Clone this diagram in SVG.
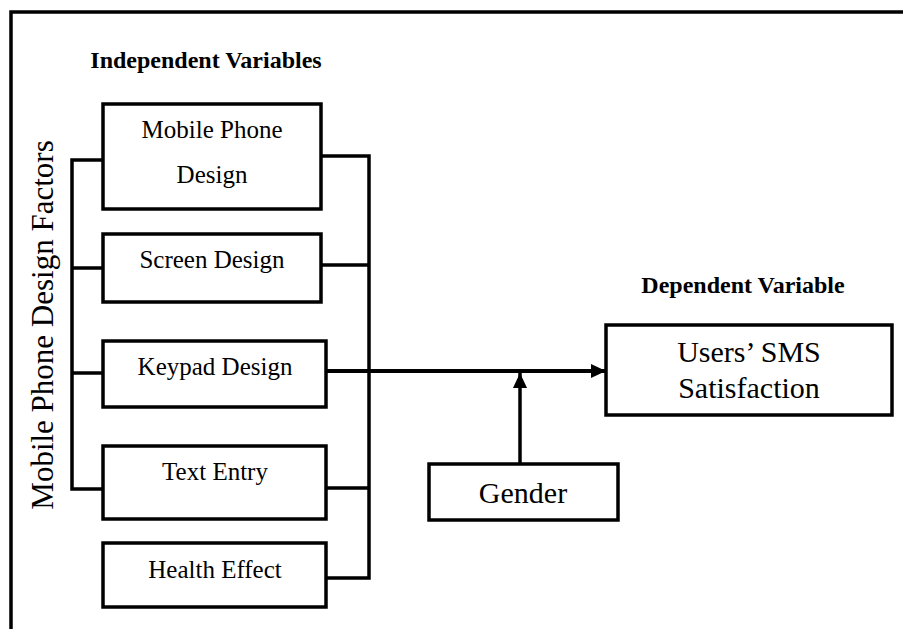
<svg xmlns="http://www.w3.org/2000/svg" width="903" height="629" viewBox="0 0 903 629">
<style>
.box{fill:#fff;stroke:#000;stroke-width:3.5}
.ln{fill:none;stroke:#000;stroke-width:3.5}
.t{font-family:"Liberation Serif","Times New Roman",serif;fill:#000;text-anchor:middle}
.b{font-weight:bold;font-size:24px}
.s{font-size:25px}
.l{font-size:30px}
.r{font-size:31px}
</style>
<defs>
<marker id="ah" markerWidth="16" markerHeight="16" refX="15" refY="7" orient="auto" markerUnits="userSpaceOnUse">
<path d="M0,0 L15,7 L0,14 Z" fill="#000"/>
</marker>
</defs>
<rect width="903" height="629" fill="#fff"/>
<path class="ln" d="M11,629 V12 H903"/>
<text class="t b" x="206" y="68">Independent Variables</text>
<text class="t b" x="743" y="293">Dependent Variable</text>
<text class="t r" transform="translate(53,325) rotate(-90)">Mobile Phone Design Factors</text>
<g id="connectors">
<path class="ln" d="M103,160 H72 V489 H103 M72,268 H103 M72,373 H103"/>
<path class="ln" d="M321,156 H369 V578 H326 M321,265 H369 M326,488 H369"/>
<line x1="326" y1="371" x2="606" y2="371" stroke="#000" stroke-width="4" marker-end="url(#ah)"/>
<line x1="520" y1="464" x2="520" y2="373" stroke="#000" stroke-width="3.5" marker-end="url(#ah)"/>
</g>
<g id="mobile-phone-design">
<rect class="box" x="103" y="104" width="218" height="105"/>
<text class="t s" x="212" y="138">Mobile Phone</text>
<text class="t s" x="212" y="183">Design</text>
</g>
<g id="screen-design">
<rect class="box" x="103" y="234" width="218" height="68"/>
<text class="t s" x="212" y="268">Screen Design</text>
</g>
<g id="keypad-design">
<rect class="box" x="103" y="341" width="223" height="66"/>
<text class="t s" x="215" y="375">Keypad Design</text>
</g>
<g id="text-entry">
<rect class="box" x="103" y="446" width="223" height="73"/>
<text class="t s" x="215" y="480">Text Entry</text>
</g>
<g id="health-effect">
<rect class="box" x="103" y="543" width="223" height="64"/>
<text class="t s" x="215" y="578">Health Effect</text>
</g>
<g id="users-sms-satisfaction">
<rect class="box" x="606" y="325" width="286" height="90"/>
<text class="t l" x="749" y="362">Users’ SMS</text>
<text class="t l" x="749" y="398">Satisfaction</text>
</g>
<g id="gender">
<rect class="box" x="429" y="464" width="189" height="56"/>
<text class="t l" x="523" y="503">Gender</text>
</g>
</svg>
